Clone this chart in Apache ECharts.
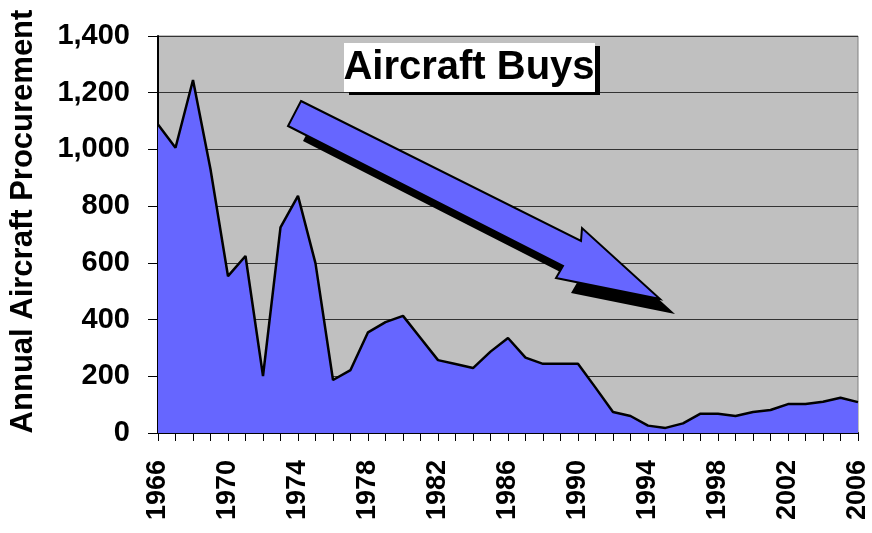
<!DOCTYPE html>
<html>
<head>
<meta charset="utf-8">
<script src="https://cdn.jsdelivr.net/npm/echarts@6/dist/echarts.min.js"></script>
<style>
  html, body { margin: 0; padding: 0; background: #fff; }
  #chart { width: 872px; height: 533px; }
</style>
</head>
<body>
<div id="chart"></div>
<script>
// years on the category axis
const years = [];
for (let y = 1966; y <= 2006; y++) years.push(String(y));

// annual aircraft procurement
const buys = [
  1088, 1006, 1245, 930, 553, 624, 201, 725, 836, 598,
  187, 222, 355, 391, 413, 335, 257, 243, 229, 287,
  335, 266, 244, 244, 244, 160, 74, 60, 26, 18,
  34, 68, 68, 60, 74, 81, 102, 102, 110, 124,
  109
];

const titleText = 'Aircraft Buys';
const yName = 'Annual Aircraft Procurement';

const chart = echarts.init(document.getElementById('chart'));

// big "downward trend" arrow (pixel outline)
const arrowPts = [
  [301, 101], [581, 241], [582, 228], [660, 299],
  [556, 278], [563, 266], [288, 126]
];
const shadowPts = arrowPts.map(p => [p[0] + 15, p[1] + 15]);

const font = 'Liberation Sans, Arial, sans-serif';

chart.setOption({
  animation: false,
  backgroundColor: '#ffffff',
  grid: {
    left: 158, right: 14, top: 36, bottom: 100,
    containLabel: false,
    outerBoundsMode: 'none',
    show: true,
    backgroundColor: '#C0C0C0',
    borderColor: '#808080',
    borderWidth: 1
  },
  xAxis: {
    type: 'category',
    data: years,
    boundaryGap: false,
    axisLine: { lineStyle: { color: '#000', width: 2 } },
    axisTick: { show: true, interval: 0, length: 8, inside: false, lineStyle: { color: '#000', width: 1 } },
    axisLabel: {
      interval: 3,
      rotate: 90,
      margin: 27,
      color: '#000',
      fontFamily: font,
      fontWeight: 'bold',
      fontSize: 27
    },
    splitLine: { show: false }
  },
  yAxis: {
    type: 'value',
    min: 0,
    max: 1400,
    interval: 200,
    name: yName,
    nameLocation: 'middle',
    nameGap: 119,
    nameTextStyle: {
      color: '#000',
      fontFamily: font,
      fontWeight: 'bold',
      fontSize: 31,
      padding: [0, 0, 0, 26]
    },
    axisLine: { show: true, lineStyle: { color: '#000', width: 2 } },
    axisTick: { show: true, length: 10, lineStyle: { color: '#000', width: 1 } },
    axisLabel: {
      margin: 28,
      color: '#000',
      fontFamily: font,
      fontWeight: 'bold',
      fontSize: 29,
      formatter: v => v.toLocaleString('en-US')
    },
    splitLine: { show: true, lineStyle: { color: '#333', width: 1 } }
  },
  series: [{
    type: 'line',
    data: buys,
    showSymbol: false,
    symbol: 'none',
    lineStyle: { color: '#000', width: 2.5 },
    areaStyle: { color: '#6666FF', opacity: 1 },
    z: 3
  }],
  graphic: [
    {
      type: 'polygon',
      shape: { points: shadowPts },
      style: { fill: '#000' },
      z: 10
    },
    {
      type: 'polygon',
      shape: { points: arrowPts },
      style: { fill: '#6666FF', stroke: '#000', lineWidth: 2 },
      z: 11
    },
    {
      type: 'rect',
      shape: { x: 349, y: 46, width: 251, height: 49 },
      style: { fill: '#000' },
      z: 10
    },
    {
      type: 'rect',
      shape: { x: 344, y: 43, width: 251, height: 49 },
      style: { fill: '#fff' },
      z: 11
    },
    {
      type: 'text',
      x: 469,
      y: 68,
      style: {
        text: titleText,
        fill: '#000',
        font: 'bold 40px "Liberation Sans", Arial, sans-serif',
        align: 'center',
        verticalAlign: 'middle'
      },
      z: 12
    }
  ]
});
</script>
</body>
</html>
